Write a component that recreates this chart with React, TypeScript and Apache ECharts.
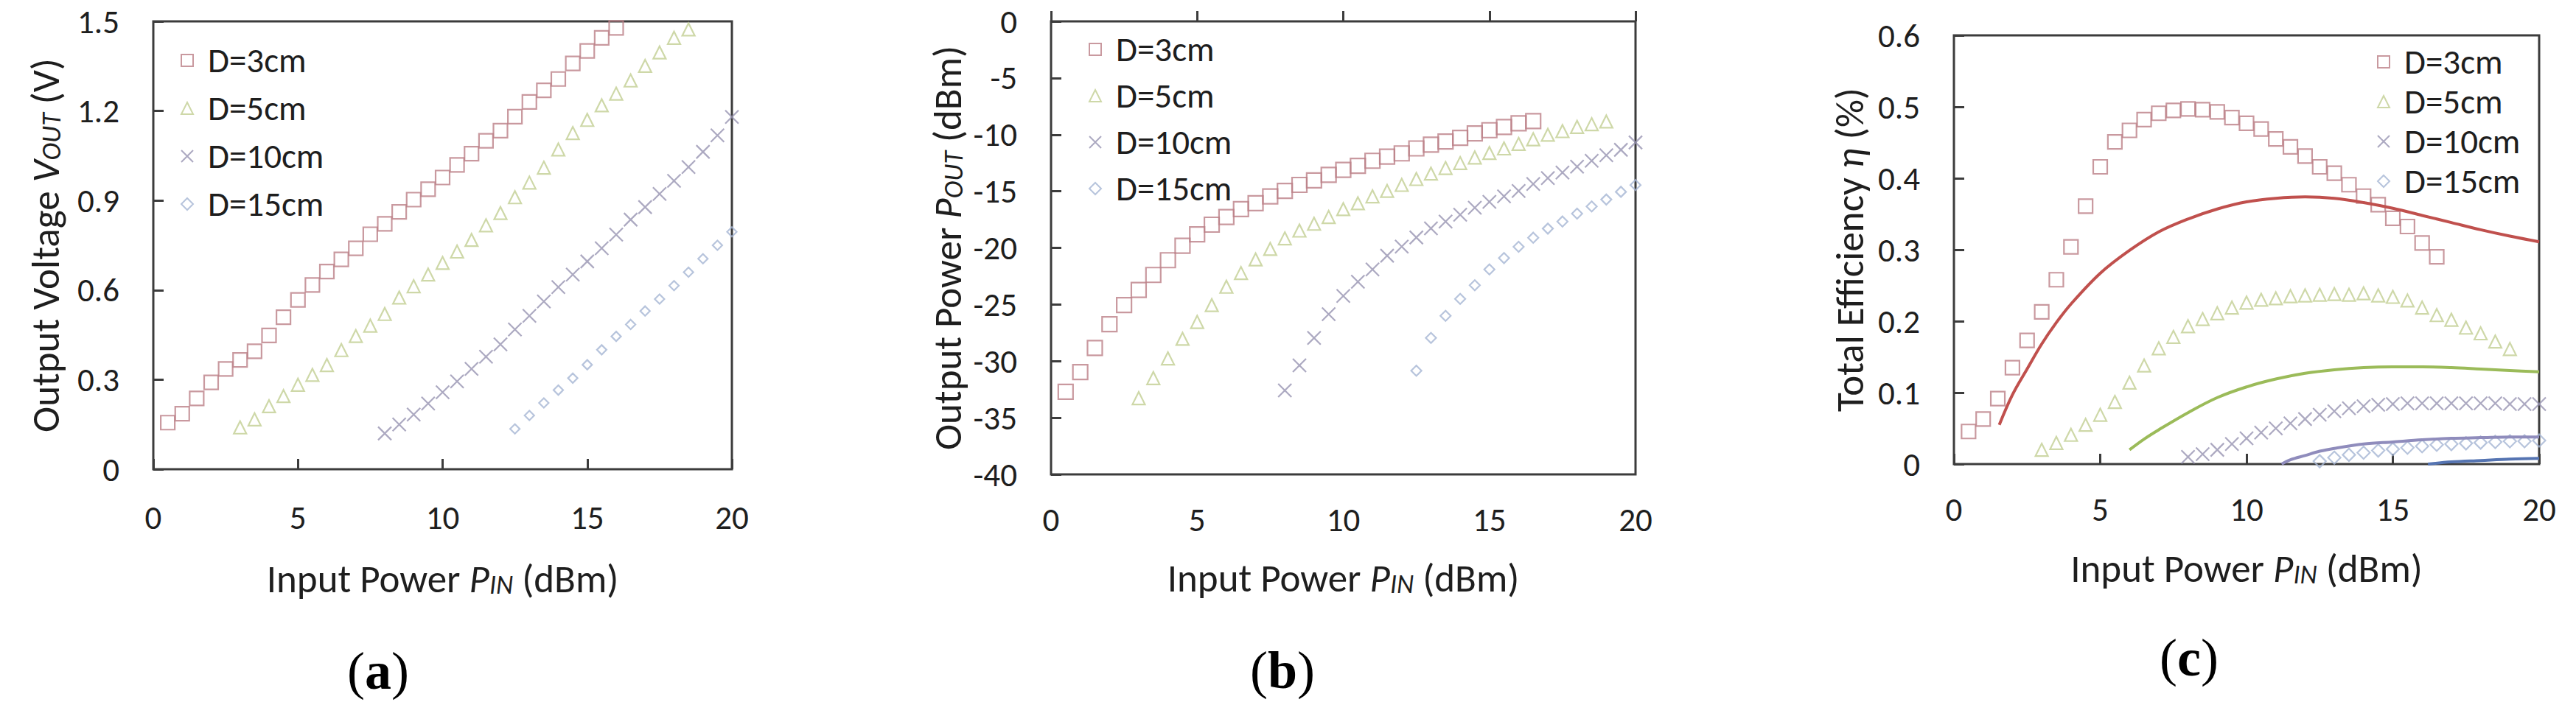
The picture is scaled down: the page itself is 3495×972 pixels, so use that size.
import React, { useEffect, useRef } from 'react';
import * as echarts from 'echarts';

const FONT = 'Carlito, Lato, "Open Sans", sans-serif';
const TXT = '#1e1e1e';
const AX = '#3c3c3c';

const C_SQ = '#bc7f87';
const C_TRI = '#c2ce92';
const C_X = '#9794b2';
const C_DIA = '#a5b5d3';

const L_RED = '#c0504d';
const L_GREEN = '#9bbb59';
const L_PURPLE = '#8f8cbc';
const L_BLUE = '#5574b2';

const SERIES_NAMES = ['D=3cm', 'D=5cm', 'D=10cm', 'D=15cm'];
const X_TICKS = [0, 5, 10, 15, 20];

// ---------- (a) Output voltage ----------
const A_X3 = [0.5, 1, 1.5, 2, 2.5, 3, 3.5, 4, 4.5, 5, 5.5, 6, 6.5, 7, 7.5, 8, 8.5, 9, 9.5, 10, 10.5, 11, 11.5, 12, 12.5, 13, 13.5, 14, 14.5, 15, 15.5, 16];
const A_D3 = [0.156, 0.186, 0.237, 0.291, 0.336, 0.366, 0.395, 0.448, 0.509, 0.567, 0.617, 0.662, 0.703, 0.74, 0.787, 0.822, 0.862, 0.903, 0.938, 0.977, 1.019, 1.057, 1.1, 1.134, 1.181, 1.23, 1.269, 1.307, 1.359, 1.401, 1.445, 1.478];
const A_X5 = [3, 3.5, 4, 4.5, 5, 5.5, 6, 6.5, 7, 7.5, 8, 8.5, 9, 9.5, 10, 10.5, 11, 11.5, 12, 12.5, 13, 13.5, 14, 14.5, 15, 15.5, 16, 16.5, 17, 17.5, 18, 18.5];
const A_D5 = [0.14, 0.167, 0.211, 0.245, 0.283, 0.316, 0.349, 0.399, 0.446, 0.481, 0.52, 0.575, 0.613, 0.652, 0.691, 0.729, 0.768, 0.817, 0.858, 0.911, 0.96, 1.01, 1.071, 1.126, 1.17, 1.219, 1.258, 1.302, 1.351, 1.396, 1.445, 1.473];
const A_X10 = [8, 8.5, 9, 9.5, 10, 10.5, 11, 11.5, 12, 12.5, 13, 13.5, 14, 14.5, 15, 15.5, 16, 16.5, 17, 17.5, 18, 18.5, 19, 19.5, 20];
const A_D10 = [0.12, 0.15, 0.183, 0.22, 0.258, 0.294, 0.336, 0.377, 0.418, 0.468, 0.514, 0.562, 0.61, 0.652, 0.696, 0.74, 0.786, 0.836, 0.878, 0.922, 0.966, 1.012, 1.063, 1.118, 1.18];
const A_X15 = [12.5, 13, 13.5, 14, 14.5, 15, 15.5, 16, 16.5, 17, 17.5, 18, 18.5, 19, 19.5, 20];
const A_D15 = [0.135, 0.18, 0.222, 0.265, 0.305, 0.35, 0.4, 0.445, 0.485, 0.53, 0.57, 0.615, 0.66, 0.705, 0.75, 0.795];

// ---------- (b) Output power ----------
const B_X3 = [0.5, 1, 1.5, 2, 2.5, 3, 3.5, 4, 4.5, 5, 5.5, 6, 6.5, 7, 7.5, 8, 8.5, 9, 9.5, 10, 10.5, 11, 11.5, 12, 12.5, 13, 13.5, 14, 14.5, 15, 15.5, 16, 16.5];
const B_D3 = [-32.71, -30.97, -28.84, -26.74, -25.05, -23.71, -22.39, -21.09, -19.81, -18.8, -17.95, -17.27, -16.58, -16.06, -15.45, -14.97, -14.44, -14.04, -13.55, -13.11, -12.75, -12.31, -11.94, -11.66, -11.22, -10.89, -10.61, -10.29, -9.89, -9.61, -9.32, -9.0, -8.8];
const B_X5 = [3, 3.5, 4, 4.5, 5, 5.5, 6, 6.5, 7, 7.5, 8, 8.5, 9, 9.5, 10, 10.5, 11, 11.5, 12, 12.5, 13, 13.5, 14, 14.5, 15, 15.5, 16, 16.5, 17, 17.5, 18, 18.5, 19];
const B_D5 = [-33.27, -31.5, -29.76, -28.03, -26.54, -25.05, -23.43, -22.22, -21.02, -20.09, -19.16, -18.47, -17.87, -17.27, -16.58, -16.06, -15.45, -14.97, -14.44, -13.92, -13.44, -12.95, -12.51, -12.02, -11.62, -11.22, -10.82, -10.41, -10.01, -9.69, -9.32, -9.08, -8.84];
const B_X10 = [8, 8.5, 9, 9.5, 10, 10.5, 11, 11.5, 12, 12.5, 13, 13.5, 14, 14.5, 15, 15.5, 16, 16.5, 17, 17.5, 18, 18.5, 19, 19.5, 20];
const B_D10 = [-32.59, -30.37, -27.95, -25.85, -24.24, -22.99, -21.9, -20.69, -19.88, -19.08, -18.28, -17.67, -17.07, -16.46, -15.94, -15.45, -14.97, -14.36, -13.84, -13.35, -12.83, -12.31, -11.82, -11.34, -10.69];
const B_X15 = [12.5, 13, 13.5, 14, 14.5, 15, 15.5, 16, 16.5, 17, 17.5, 18, 18.5, 19, 19.5, 20];
const B_D15 = [-30.85, -27.95, -26.0, -24.5, -23.3, -21.9, -20.9, -19.9, -19.1, -18.3, -17.67, -16.98, -16.34, -15.73, -15.05, -14.45];

// ---------- (c) Total efficiency ----------
const C_X3 = [0.5, 1, 1.5, 2, 2.5, 3, 3.5, 4, 4.5, 5, 5.5, 6, 6.5, 7, 7.5, 8, 8.5, 9, 9.5, 10, 10.5, 11, 11.5, 12, 12.5, 13, 13.5, 14, 14.5, 15, 15.5, 16, 16.5];
const C_D3 = [0.0456, 0.063, 0.0916, 0.135, 0.173, 0.213, 0.258, 0.304, 0.361, 0.416, 0.451, 0.467, 0.482, 0.491, 0.495, 0.497, 0.496, 0.493, 0.485, 0.477, 0.469, 0.455, 0.444, 0.431, 0.416, 0.407, 0.391, 0.375, 0.363, 0.344, 0.3325, 0.3095, 0.29];
const C_X5 = [3, 3.5, 4, 4.5, 5, 5.5, 6, 6.5, 7, 7.5, 8, 8.5, 9, 9.5, 10, 10.5, 11, 11.5, 12, 12.5, 13, 13.5, 14, 14.5, 15, 15.5, 16, 16.5, 17, 17.5, 18, 18.5, 19];
const C_D5 = [0.02, 0.0296, 0.041, 0.055, 0.069, 0.087, 0.114, 0.138, 0.162, 0.178, 0.193, 0.203, 0.211, 0.219, 0.226, 0.23, 0.232, 0.235, 0.236, 0.237, 0.238, 0.237, 0.239, 0.236, 0.234, 0.229, 0.219, 0.2085, 0.202, 0.191, 0.183, 0.1715, 0.161];
const C_X10 = [8, 8.5, 9, 9.5, 10, 10.5, 11, 11.5, 12, 12.5, 13, 13.5, 14, 14.5, 15, 15.5, 16, 16.5, 17, 17.5, 18, 18.5, 19, 19.5, 20];
const C_D10 = [0.01, 0.014, 0.02, 0.028, 0.036, 0.044, 0.05, 0.057, 0.063, 0.069, 0.074, 0.078, 0.081, 0.083, 0.084, 0.085, 0.085, 0.085, 0.085, 0.085, 0.085, 0.085, 0.084, 0.084, 0.084];
const C_X15 = [12.5, 13, 13.5, 14, 14.5, 15, 15.5, 16, 16.5, 17, 17.5, 18, 18.5, 19, 19.5, 20];
const C_D15 = [0.004, 0.009, 0.013, 0.016, 0.019, 0.021, 0.023, 0.025, 0.027, 0.028, 0.029, 0.03, 0.031, 0.032, 0.032, 0.033];

// theoretical curves in (c)
const T3_X = [1.55, 2, 2.5, 3, 3.5, 4, 5, 6, 7, 8, 9, 10, 11, 12, 13, 14, 15, 16, 17, 18, 19, 20];
const T3_Y = [0.055, 0.097, 0.133, 0.168, 0.198, 0.224, 0.267, 0.299, 0.325, 0.343, 0.357, 0.367, 0.372, 0.374, 0.372, 0.366, 0.358, 0.348, 0.338, 0.328, 0.319, 0.311];
const T5_X = [6, 6.5, 7, 8, 9, 10, 11, 12, 13, 14, 15, 16, 17, 18, 19, 20];
const T5_Y = [0.02, 0.035, 0.048, 0.072, 0.093, 0.108, 0.119, 0.127, 0.132, 0.135, 0.136, 0.136, 0.135, 0.133, 0.131, 0.129];
const T10_X = [11.2, 11.5, 12, 12.5, 13, 14, 15, 16, 17, 18, 19, 20];
const T10_Y = [0.0, 0.006, 0.012, 0.018, 0.022, 0.028, 0.031, 0.034, 0.036, 0.037, 0.038, 0.038];
const T15_X = [16.2, 17, 18, 19, 20];
const T15_Y = [0.0, 0.003, 0.005, 0.007, 0.008];

const CROSS = 'path://M0,0L10,10M10,0L0,10';
const SYMBOLS = ['rect', 'triangle', CROSS, 'diamond'];
const COLORS = [C_SQ, C_TRI, C_X, C_DIA];

const pairs = (xs: number[], ys: number[]) => xs.map((x, i) => [x, ys[i]]);

const TFS = 53;
const TLH = 62;
const SFS = 36;
const titleRich = {
  n: { fontSize: TFS, fontFamily: FONT, color: TXT, lineHeight: TLH, verticalAlign: 'bottom' },
  i: { fontSize: TFS, fontFamily: FONT, color: TXT, fontStyle: 'italic', lineHeight: TLH, verticalAlign: 'bottom' },
  s: { fontSize: SFS, fontFamily: FONT, color: TXT, fontStyle: 'italic', lineHeight: TLH - 0.64 * (TFS - SFS), verticalAlign: 'bottom' },
};

const X_NAME = '{n|Input Power }{i|P}{s|IN}{n| (dBm)}';
const Y_NAMES = [
  '{n|Output Voltage }{i|V}{s|OUT}{n| (V)}',
  '{n|Output Power }{i|P}{s|OUT}{n| (dBm)}',
  '{n|Total Efficiency }{i|η}{n| (%)}',
];

const GRIDS = [
  { left: 208, top: 29, width: 785, height: 608 },
  { left: 1426, top: 29, width: 793, height: 615 },
  { left: 2651, top: 48, width: 794, height: 582 },
];
const Y_RANGES = [
  { min: 0, max: 1.5, interval: 0.3 },
  { min: -40, max: 0, interval: 5 },
  { min: 0, max: 0.6, interval: 0.1 },
];
const X_LABEL_MARGIN = [43, 39, 39];
const X_NAME_GAP = [113, 105, 106];
const Y_NAME_GAP = [120, 114, 115];
const LEGENDS = [
  { left: 240, top: 52, itemGap: 15 },
  { left: 1472, top: 37, itemGap: 13 },
  { left: 3220, top: 54, itemGap: 4 },
];
const PANEL_LABELS = [
  { t: 'a', x: 513, y: 911 },
  { t: 'b', x: 1740, y: 910 },
  { t: 'c', x: 2970, y: 893 },
];
const SYMBOL_SIZES = [
  [19, 17, 18, 13],
  [20, 17, 18, 14],
  [19, 17, 18, 17],
];

function buildOption() {
  const data = [
    [pairs(A_X3, A_D3), pairs(A_X5, A_D5), pairs(A_X10, A_D10), pairs(A_X15, A_D15)],
    [pairs(B_X3, B_D3), pairs(B_X5, B_D5), pairs(B_X10, B_D10), pairs(B_X15, B_D15)],
    [pairs(C_X3, C_D3), pairs(C_X5, C_D5), pairs(C_X10, C_D10), pairs(C_X15, C_D15)],
  ];

  const grid = GRIDS.map((g) => ({ ...g, show: true, borderColor: AX, borderWidth: 3, backgroundColor: 'transparent' }));

  const xAxis = GRIDS.map((_, k) => ({
    type: 'value',
    gridIndex: k,
    min: 0,
    max: 20,
    interval: 5,
    axisLine: { show: false },
    axisTick: { show: true, inside: true, length: 14, lineStyle: { color: AX, width: 3 } },
    splitLine: { show: false },
    axisLabel: {
      fontSize: 45,
      fontFamily: FONT,
      color: TXT,
      margin: X_LABEL_MARGIN[k],
      formatter: (v: number) => (X_TICKS.includes(v) ? String(v) : ''),
    },
    name: X_NAME,
    nameLocation: 'middle',
    nameGap: X_NAME_GAP[k],
    nameTextStyle: { rich: titleRich, fontSize: TFS, fontFamily: FONT, color: TXT },
  }));

  const yAxis = GRIDS.map((_, k) => ({
    type: 'value',
    gridIndex: k,
    ...Y_RANGES[k],
    axisLine: { show: false },
    axisTick: { show: true, inside: true, length: 14, lineStyle: { color: AX, width: 3 } },
    splitLine: { show: false },
    axisLabel: {
      fontSize: 45,
      fontFamily: FONT,
      color: TXT,
      margin: 46,
      formatter: (v: number) => String(Math.round(v * 10) / 10),
    },
    name: Y_NAMES[k],
    nameLocation: 'middle',
    nameGap: Y_NAME_GAP[k],
    nameTextStyle: { rich: titleRich, fontSize: TFS, fontFamily: FONT, color: TXT },
  }));

  const series: any[] = [];
  data.forEach((panel, k) => {
    panel.forEach((pts, j) => {
      series.push({
        type: 'scatter',
        name: SERIES_NAMES[j],
        xAxisIndex: k,
        yAxisIndex: k,
        data: pts,
        symbol: SYMBOLS[j],
        symbolSize: SYMBOL_SIZES[k][j],
        itemStyle: { color: 'rgba(0,0,0,0)', borderColor: COLORS[j], borderWidth: 2.2 },
        z: 2,
      });
    });
  });

  const theory = [
    { xs: T3_X, ys: T3_Y, c: L_RED, n: 'T3' },
    { xs: T5_X, ys: T5_Y, c: L_GREEN, n: 'T5' },
    { xs: T10_X, ys: T10_Y, c: L_PURPLE, n: 'T10' },
    { xs: T15_X, ys: T15_Y, c: L_BLUE, n: 'T15' },
  ];
  theory.forEach((t) => {
    series.push({
      type: 'line',
      name: t.n,
      xAxisIndex: 2,
      yAxisIndex: 2,
      data: pairs(t.xs, t.ys),
      smooth: 0.35,
      showSymbol: false,
      symbol: 'none',
      lineStyle: { color: t.c, width: 4 },
      z: 3,
    });
  });

  const legend = LEGENDS.map((l) => ({
    left: l.left,
    top: l.top,
    orient: 'vertical',
    itemGap: l.itemGap,
    itemWidth: 16,
    itemHeight: 16,
    selectedMode: false,
    textStyle: { fontSize: 47, fontFamily: FONT, color: TXT, lineHeight: 50, padding: [0, 0, 0, 15] },
    data: SERIES_NAMES.map((name, j) => ({
      name,
      icon: SYMBOLS[j],
      itemStyle: { color: 'rgba(0,0,0,0)', borderColor: COLORS[j], borderWidth: 2 },
    })),
  }));

  const graphic = PANEL_LABELS.map((p) => ({
    type: 'text',
    x: p.x,
    y: p.y,
    style: {
      text: '{p|(}{b|' + p.t + '}{p|)}',
      align: 'center',
      verticalAlign: 'middle',
      rich: {
        p: { fontFamily: '"Liberation Serif", "DejaVu Serif", serif', fontSize: 72, fill: '#000' },
        b: { fontFamily: '"Liberation Serif", "DejaVu Serif", serif', fontSize: 72, fontWeight: 'bold', fill: '#000' },
      },
    },
  }));

  return {
    animation: false,
    backgroundColor: '#ffffff',
    grid,
    xAxis,
    yAxis,
    legend,
    series,
    graphic,
  };
}

export default function App() {
  const ref = useRef<HTMLDivElement>(null);
  useEffect(() => {
    document.body.style.margin = '0';
    const chart = echarts.init(ref.current as HTMLDivElement, null, { renderer: 'svg' });
    chart.setOption(buildOption() as any);
    return () => chart.dispose();
  }, []);
  return <div ref={ref} style={{ width: 3495, height: 972, background: '#fff' }} />;
}
